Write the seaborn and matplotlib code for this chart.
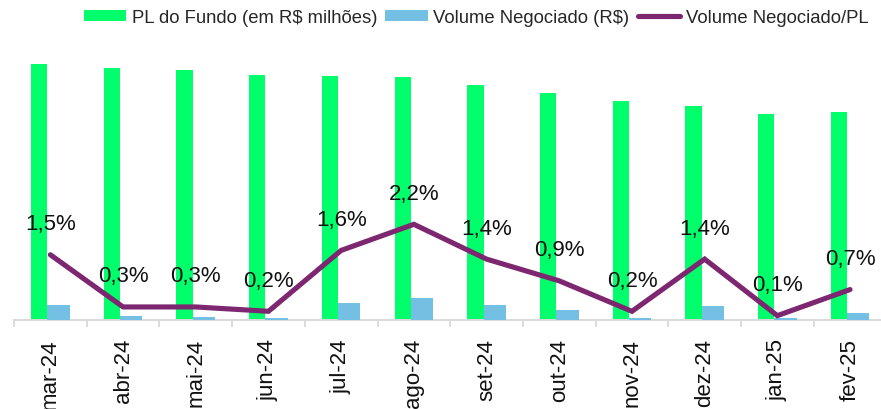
import numpy as np
import matplotlib
matplotlib.use("Agg")
import matplotlib.pyplot as plt
from matplotlib.patches import Patch
from matplotlib.lines import Line2D
import seaborn as sns

# Monthly fund data
months = ["mar-24", "abr-24", "mai-24", "jun-24", "jul-24", "ago-24",
          "set-24", "out-24", "nov-24", "dez-24", "jan-25", "fev-25"]
pl_milhoes = [256, 252, 250, 245, 244, 243, 235, 227, 219, 214, 206, 208]
volume_rs = [3.64e6, 0.88e6, 0.64e6, 0.55e6, 3.97e6, 5.23e6,
             3.50e6, 2.31e6, 0.48e6, 3.33e6, 0.48e6, 1.67e6]
volume_pl = [0.015, 0.003, 0.003, 0.002, 0.016, 0.022,
             0.014, 0.009, 0.002, 0.014, 0.001, 0.007]
pct_labels = ["1,5%", "0,3%", "0,3%", "0,2%", "1,6%", "2,2%",
              "1,4%", "0,9%", "0,2%", "1,4%", "0,1%", "0,7%"]

GREEN = "#00FF6A"
BLUE = "#74C0E4"
PURPLE = "#7E2771"
GRID = "#D9D9D9"

sns.set_theme(style="white")
plt.rcParams["font.family"] = ["Liberation Sans", "DejaVu Sans"]

fig = plt.figure(figsize=(8.81, 4.10), dpi=100)
ax = fig.add_axes([14 / 881, 89 / 410, 872.4 / 881, 290 / 410])
ax2 = ax.twinx()
ax3 = ax.twinx()

# PL bars (left of each month) and traded volume bars (right of each month)
sns.barplot(x=months, y=pl_milhoes, ax=ax, color=GREEN, saturation=1,
            width=0.224, errorbar=None, linewidth=0)
for p in ax.patches:
    p.set_x(p.get_x() - 0.153)

sns.barplot(x=months, y=volume_rs, ax=ax2, color=BLUE, saturation=1,
            width=0.307, errorbar=None, linewidth=0)
for p in ax2.patches:
    p.set_x(p.get_x() + 0.112)

# Volume / PL ratio line
sns.lineplot(x=months, y=volume_pl, ax=ax3, color=PURPLE, linewidth=3.7,
             sort=False, solid_capstyle="round", solid_joinstyle="miter")
for i, (v, lab) in enumerate(zip(volume_pl, pct_labels)):
    ax3.annotate(lab, xy=(i, v), xytext=(0, 22.3), textcoords="offset points",
                 ha="center", va="center", fontsize=16, color="#111111")

ax.set_ylim(0, 290)
ax2.set_ylim(0, 69e6)
ax3.set_ylim(0, 0.06667)
ax.set_xlim(-0.5, 11.5)

for a in (ax, ax2, ax3):
    a.set_ylabel("")
    a.set_xlabel("")
    a.set_yticks([])
    for s in ("top", "left", "right"):
        a.spines[s].set_visible(False)
    a.grid(False)
ax2.spines["bottom"].set_visible(False)
ax3.spines["bottom"].set_visible(False)
ax.spines["bottom"].set_color(GRID)
ax.spines["bottom"].set_linewidth(1.4)

ax.set_xticks(range(len(months)))
ax.set_xticklabels(months, rotation=90, fontsize=16, color="#111111",
                   va="top", ha="center")
ax.set_xticks(np.arange(-0.5, len(months), 1.0), minor=True)
ax.tick_params(axis="x", which="major", length=0, pad=13)
ax.tick_params(axis="x", which="minor", length=5, width=1.3, color=GRID,
               direction="out", bottom=True)

handles = [Patch(facecolor=GREEN, edgecolor="none"),
           Patch(facecolor=BLUE, edgecolor="none"),
           Line2D([0], [0], color=PURPLE, linewidth=3.7)]
labels = ["PL do Fundo (em R$ milhões)", "Volume Negociado (R$)",
          "Volume Negociado/PL"]
fig.legend(handles, labels, loc="center", bbox_to_anchor=(476 / 881, 1 - 18.5 / 410),
           ncol=3, frameon=False, fontsize=13.3, handlelength=2.3,
           handleheight=0.6, handletextpad=0.3, columnspacing=0.45,
           labelcolor="#262626")

fig.savefig("out.png", dpi=100)
